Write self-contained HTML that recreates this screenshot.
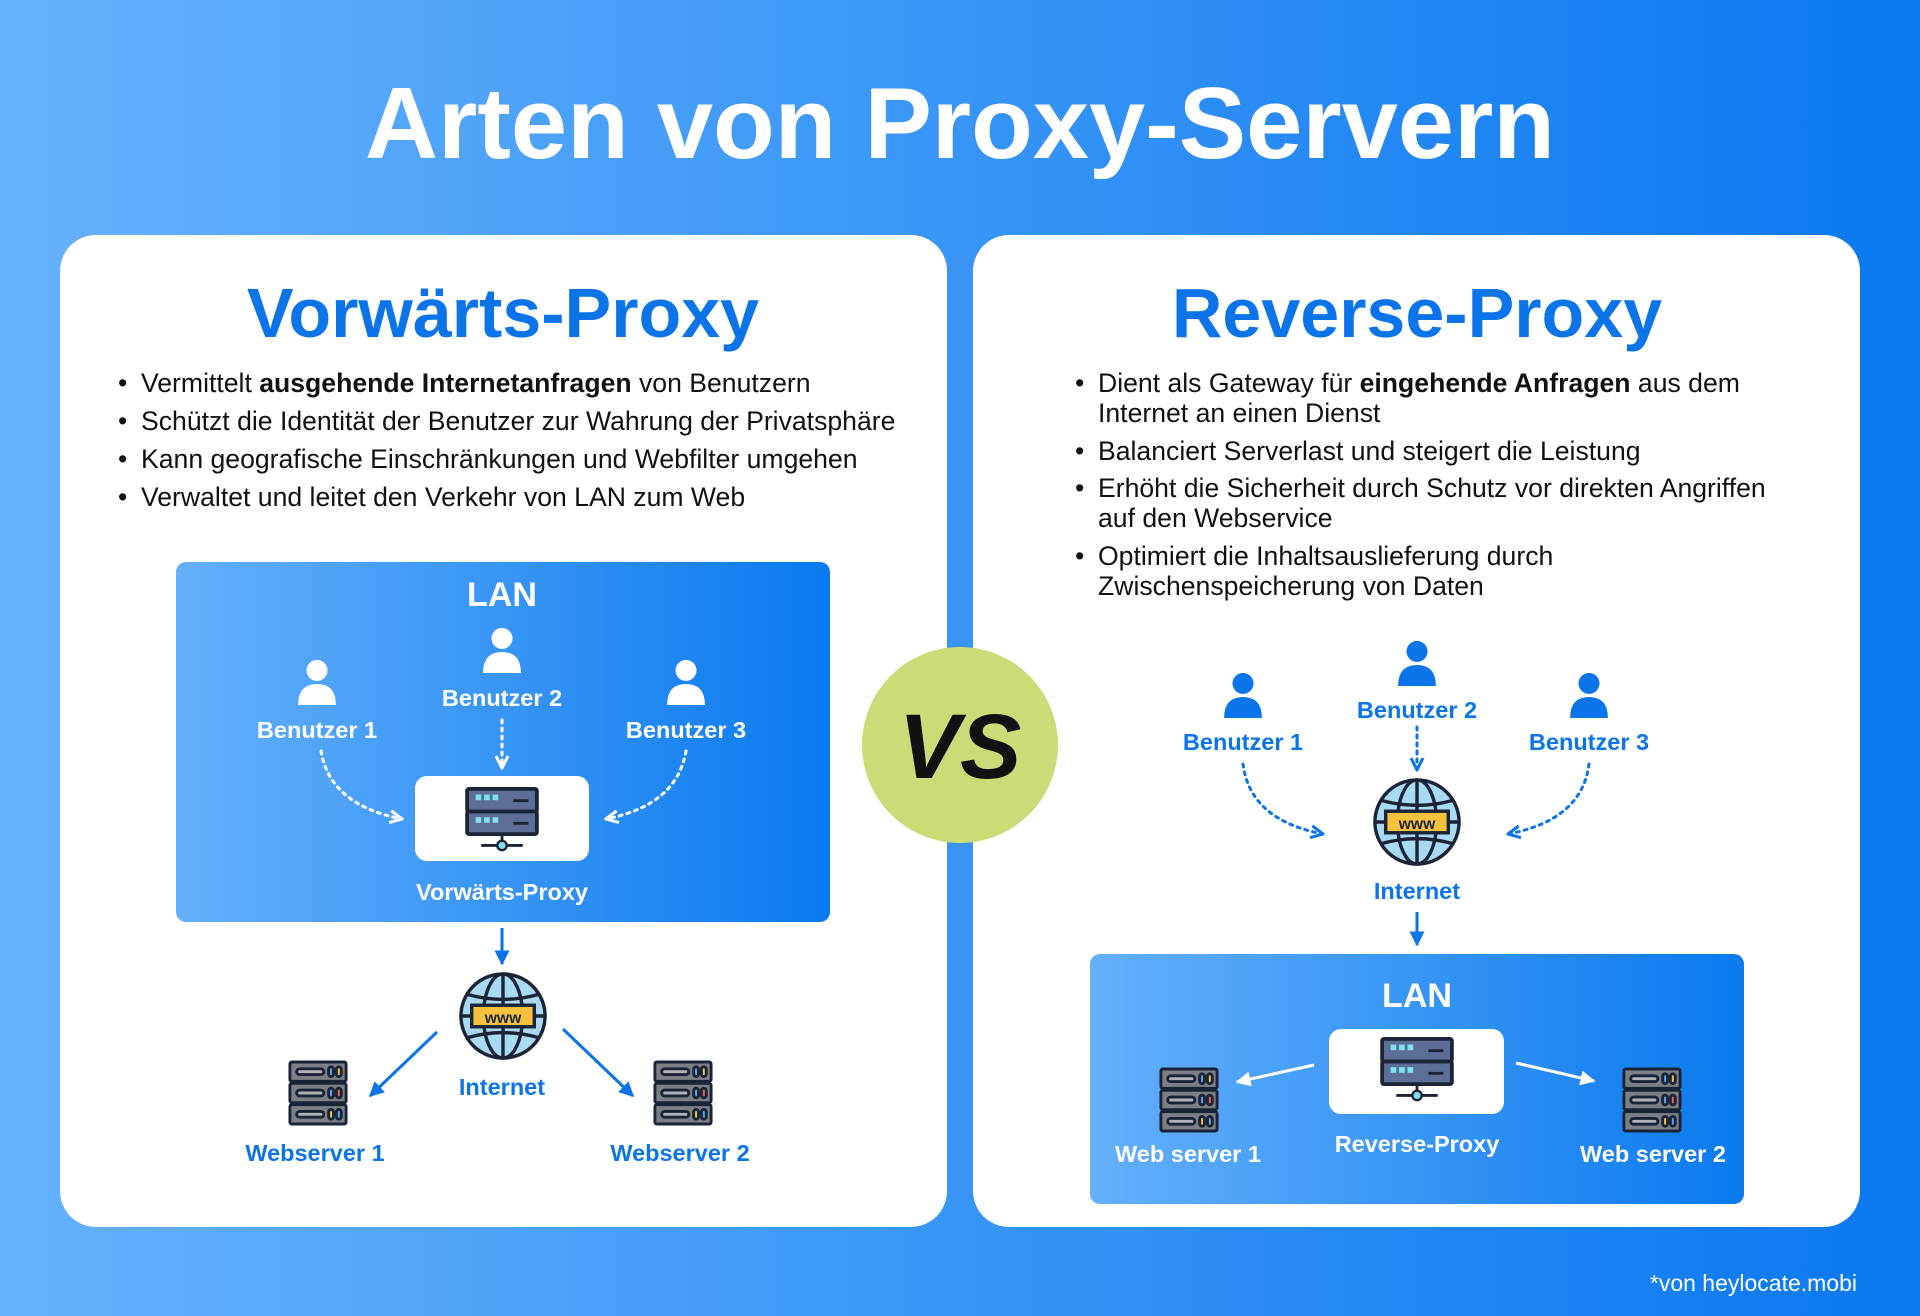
<!DOCTYPE html>
<html><head><meta charset="utf-8"><style>
html,body{margin:0;padding:0;width:1920px;height:1316px;overflow:hidden}
svg{display:block}
text{font-family:"Liberation Sans",sans-serif}
</style></head><body>
<svg width="1920" height="1316" viewBox="0 0 1920 1316" xmlns="http://www.w3.org/2000/svg">
<defs>
<linearGradient id="bg" x1="0" y1="0" x2="1" y2="0"><stop offset="0" stop-color="#66b2fc"/><stop offset="1" stop-color="#0a78f0"/></linearGradient>
<linearGradient id="lan" x1="0" y1="0" x2="1" y2="0"><stop offset="0" stop-color="#64b0fb"/><stop offset="1" stop-color="#0a7aef"/></linearGradient>
<symbol id="user" viewBox="0 0 40 46"><circle cx="20" cy="11" r="10"/><path d="M2 44 Q2 24 20 24 Q38 24 38 44 Z"/></symbol>
<symbol id="proxy" viewBox="0 0 80 70">
<rect x="3" y="2" width="74" height="24" rx="2" fill="#5d6f96" stroke="#1b2436" stroke-width="4"/>
<rect x="3" y="26" width="74" height="24" rx="2" fill="#5d6f96" stroke="#1b2436" stroke-width="4"/>
<rect x="12" y="8" width="6" height="6" fill="#7fe0f0"/><rect x="21" y="8" width="6" height="6" fill="#7fe0f0"/><rect x="30" y="8" width="6" height="6" fill="#7fe0f0"/>
<rect x="12" y="32" width="6" height="6" fill="#7fe0f0"/><rect x="21" y="32" width="6" height="6" fill="#7fe0f0"/><rect x="30" y="32" width="6" height="6" fill="#7fe0f0"/>
<rect x="52" y="13" width="16" height="3" fill="#1b2436"/><rect x="52" y="37" width="16" height="3" fill="#1b2436"/>
<line x1="40" y1="50" x2="40" y2="60" stroke="#1b2436" stroke-width="3"/><line x1="18" y1="62" x2="62" y2="62" stroke="#1b2436" stroke-width="3"/>
<circle cx="40" cy="62" r="5" fill="#7fe0f0" stroke="#1b2436" stroke-width="2.5"/>
</symbol>
<symbol id="ws" viewBox="0 0 64 68">
<g stroke="#1b2436" stroke-width="3">
<rect x="3" y="2" width="58" height="20" rx="2" fill="#7d7f86"/><rect x="3" y="24" width="58" height="20" rx="2" fill="#7d7f86"/><rect x="3" y="46" width="58" height="20" rx="2" fill="#7d7f86"/>
<rect x="10" y="9" width="28" height="6" rx="3" fill="#b0b2b8"/><rect x="10" y="31" width="28" height="6" rx="3" fill="#b0b2b8"/><rect x="10" y="53" width="28" height="6" rx="3" fill="#b0b2b8"/>
<rect x="43" y="7" width="5" height="10" rx="2.5" fill="#5aa8f0"/><rect x="51" y="7" width="5" height="10" rx="2.5" fill="#f5c542"/>
<rect x="43" y="29" width="5" height="10" rx="2.5" fill="#5aa8f0"/><rect x="51" y="29" width="5" height="10" rx="2.5" fill="#f0665a"/>
<rect x="43" y="51" width="5" height="10" rx="2.5" fill="#f5c542"/><rect x="51" y="51" width="5" height="10" rx="2.5" fill="#5aa8f0"/>
</g></symbol>
<symbol id="globe" viewBox="-46 -46 92 92">
<g stroke="#1b2436" stroke-width="3.5" fill="none">
<circle r="43" fill="#a8daf4"/>
<ellipse rx="20" ry="43"/><line x1="0" y1="-43" x2="0" y2="43"/><line x1="-43" y1="0" x2="43" y2="0"/>
<path d="M-36 -22 Q0 -12 36 -22"/><path d="M-36 22 Q0 12 36 22"/>
</g>
<rect x="-32" y="-11" width="64" height="22" fill="#f9c23c" stroke="#1b2436" stroke-width="3.5"/>
<text x="0" y="7" text-anchor="middle" font-size="16" font-weight="bold" fill="#1b2436">www</text>
</symbol>
<marker id="ah" viewBox="0 0 10 10" refX="9" refY="5" markerWidth="5" markerHeight="5" orient="auto"><path d="M1 1 L9 5 L1 9" fill="none" stroke="context-stroke" stroke-width="2"/></marker>
<marker id="aw" viewBox="0 0 10 10" refX="9" refY="5" markerWidth="5" markerHeight="5" orient="auto"><path d="M0 0 L10 5 L0 10 Z" fill="#fff"/></marker>
<marker id="ab" viewBox="0 0 10 10" refX="9" refY="5" markerWidth="5" markerHeight="5" orient="auto"><path d="M0 0 L10 5 L0 10 Z" fill="#0a74e8"/></marker>
</defs>
<rect width="1920" height="1316" fill="url(#bg)"/>
<text x="960" y="158" text-anchor="middle" font-size="101" font-weight="bold" fill="#fff">Arten von Proxy-Servern</text>

<rect x="60" y="235" width="887" height="992" rx="36" fill="#fff"/>
<rect x="973" y="235" width="887" height="992" rx="36" fill="#fff"/>

<!-- LEFT -->
<text x="503" y="337" text-anchor="middle" font-size="70" font-weight="bold" fill="#0a74e8">Vorwärts-Proxy</text>
<g font-size="26.6" fill="#111">
<text x="118" y="392">•</text><text x="141" y="392">Vermittelt <tspan font-weight="bold">ausgehende Internetanfragen</tspan> von Benutzern</text>
<text x="118" y="430">•</text><text x="141" y="430">Schützt die Identität der Benutzer zur Wahrung der Privatsphäre</text>
<text x="118" y="468">•</text><text x="141" y="468">Kann geografische Einschränkungen und Webfilter umgehen</text>
<text x="118" y="506">•</text><text x="141" y="506">Verwaltet und leitet den Verkehr von LAN zum Web</text>
</g>
<rect x="176" y="562" width="654" height="360" rx="10" fill="url(#lan)"/>
<text x="502" y="606" text-anchor="middle" font-size="34" font-weight="bold" fill="#fff">LAN</text>
<g fill="#fff"><use href="#user" x="296" y="658" width="42" height="50"/><use href="#user" x="481" y="626" width="42" height="50"/><use href="#user" x="665" y="658" width="42" height="50"/></g>
<g font-size="23.5" font-weight="bold" fill="#fff" text-anchor="middle">
<text x="317" y="738">Benutzer 1</text><text x="502" y="706">Benutzer 2</text><text x="686" y="738">Benutzer 3</text>
<text x="502" y="900">Vorwärts-Proxy</text></g>
<g stroke="#fff" stroke-width="3" fill="none" stroke-dasharray="3 5" stroke-linecap="round">
<path d="M321 751 Q330 805 402 819" marker-end="url(#ah)"/>
<path d="M686 751 Q677 805 606 819" marker-end="url(#ah)"/>
<path d="M502 720 L502 768" marker-end="url(#ah)"/>
</g>
<rect x="415" y="776" width="174" height="85" rx="12" fill="#fff"/>
<use href="#proxy" x="464" y="787" width="76" height="66"/>
<line x1="502" y1="928" x2="502" y2="964" stroke="#0a74e8" stroke-width="3" marker-end="url(#ab)"/>
<use href="#globe" x="458" y="971" width="90" height="90"/>
<line x1="437" y1="1032" x2="370" y2="1096" stroke="#0a74e8" stroke-width="3" marker-end="url(#ab)"/>
<line x1="563" y1="1029" x2="633" y2="1096" stroke="#0a74e8" stroke-width="3" marker-end="url(#ab)"/>
<use href="#ws" x="287" y="1060" width="62" height="66"/>
<use href="#ws" x="652" y="1060" width="62" height="66"/>
<g font-size="23.5" font-weight="bold" fill="#0a74e8" text-anchor="middle">
<text x="502" y="1095">Internet</text><text x="315" y="1161">Webserver 1</text><text x="680" y="1161">Webserver 2</text></g>

<!-- RIGHT -->
<text x="1417" y="337" text-anchor="middle" font-size="70" font-weight="bold" fill="#0a74e8">Reverse-Proxy</text>
<g font-size="26.6" fill="#111">
<text x="1075" y="392">•</text><text x="1098" y="392">Dient als Gateway für <tspan font-weight="bold">eingehende Anfragen</tspan> aus dem</text>
<text x="1098" y="422">Internet an einen Dienst</text>
<text x="1075" y="460">•</text><text x="1098" y="460">Balanciert Serverlast und steigert die Leistung</text>
<text x="1075" y="497">•</text><text x="1098" y="497">Erhöht die Sicherheit durch Schutz vor direkten Angriffen</text>
<text x="1098" y="527">auf den Webservice</text>
<text x="1075" y="565">•</text><text x="1098" y="565">Optimiert die Inhaltsauslieferung durch</text>
<text x="1098" y="595">Zwischenspeicherung von Daten</text>
</g>
<g fill="#0a74e8"><use href="#user" x="1222" y="671" width="42" height="50"/><use href="#user" x="1396" y="639" width="42" height="50"/><use href="#user" x="1568" y="671" width="42" height="50"/></g>
<g font-size="23.5" font-weight="bold" fill="#0a74e8" text-anchor="middle">
<text x="1243" y="750">Benutzer 1</text><text x="1417" y="718">Benutzer 2</text><text x="1589" y="750">Benutzer 3</text>
<text x="1417" y="899">Internet</text></g>
<g stroke="#0a74e8" stroke-width="3" fill="none" stroke-dasharray="3 5" stroke-linecap="round">
<path d="M1243 764 Q1250 820 1323 834" marker-end="url(#ah)"/>
<path d="M1589 764 Q1582 820 1508 834" marker-end="url(#ah)"/>
<path d="M1417 727 L1417 770" marker-end="url(#ah)"/>
</g>
<use href="#globe" x="1372" y="777" width="90" height="90"/>
<line x1="1417" y1="912" x2="1417" y2="945" stroke="#0a74e8" stroke-width="3" marker-end="url(#ab)"/>
<rect x="1090" y="954" width="654" height="250" rx="10" fill="url(#lan)"/>
<text x="1417" y="1007" text-anchor="middle" font-size="34" font-weight="bold" fill="#fff">LAN</text>
<rect x="1329" y="1029" width="175" height="85" rx="12" fill="#fff"/>
<use href="#proxy" x="1379" y="1037" width="76" height="66"/>
<line x1="1314" y1="1065" x2="1237" y2="1082" stroke="#fff" stroke-width="3" marker-end="url(#aw)"/>
<line x1="1516" y1="1063" x2="1594" y2="1081" stroke="#fff" stroke-width="3" marker-end="url(#aw)"/>
<use href="#ws" x="1158" y="1067" width="62" height="66"/>
<use href="#ws" x="1621" y="1067" width="62" height="66"/>
<g font-size="23.5" font-weight="bold" fill="#fff" text-anchor="middle">
<text x="1188" y="1162">Web server 1</text><text x="1417" y="1152">Reverse-Proxy</text><text x="1653" y="1162">Web server 2</text></g>

<!-- VS -->
<circle cx="960" cy="745" r="98" fill="#cbdb78"/>
<text x="960" y="778" text-anchor="middle" font-size="92" font-weight="bold" font-style="italic" fill="#111">VS</text>

<text x="1857" y="1291" text-anchor="end" font-size="23" fill="#fff">*von heylocate.mobi</text>
</svg>
</body></html>
